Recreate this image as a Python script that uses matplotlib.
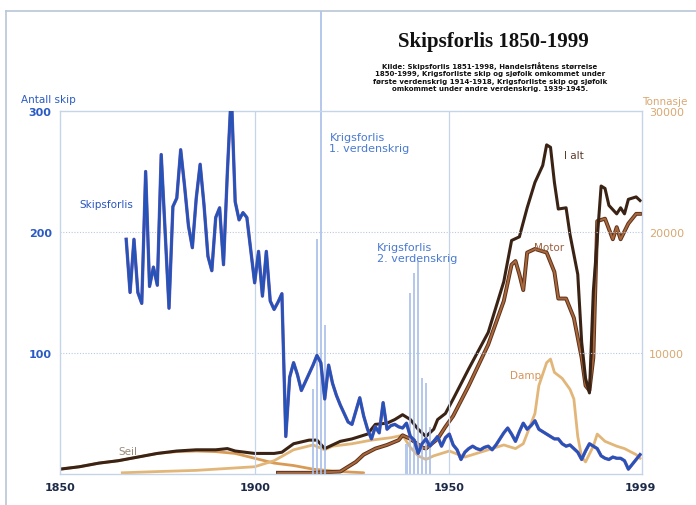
import numpy as np
import matplotlib
matplotlib.use("Agg")
import matplotlib.pyplot as plt
import matplotlib.patheffects as pe
from matplotlib.lines import Line2D

# Skipsforlis (antall skip), 1867-1999
forlis_years = np.arange(1867, 2000)
forlis = [194, 150, 194,
          150, 141, 250, 155, 171, 156, 264, 200, 137, 221,
          228, 268, 238, 205, 187, 228, 256, 222, 180, 168,
          212, 220, 173, 250, 316, 225, 210, 216, 212, 185,
          158, 184, 147, 184, 143, 136, 142, 149, 31, 80,
          92, 82, 69, 76, 83, 90, 98, 92, 62, 90,
          75, 65, 57, 50, 43, 41, 52, 63, 48, 37,
          29, 39, 34, 59, 37, 40, 41, 39, 38, 42,
          31, 28, 17, 25, 29, 23, 27, 31, 23, 30,
          33, 24, 20, 12, 18, 21, 23, 21, 20, 22,
          23, 20, 24, 29, 34, 38, 33, 27, 35, 42,
          37, 40, 44, 37, 35, 33, 31, 29, 29, 25,
          23, 24, 21, 18, 12, 19, 25, 23, 21, 15,
          13, 12, 14, 13, 13, 11, 4, 8, 12, 16]

# Krigsforlis (antall skip)
ww1_years = [1915, 1916, 1917, 1918]
ww1_loss = [70, 194, 383, 123]
ww2_years = [1939, 1940, 1941, 1942, 1943, 1944, 1945]
ww2_loss = [25, 150, 166, 176, 79, 75, 39]

# Tonnasje
ialt_years = [1850, 1855, 1860, 1865, 1870, 1875, 1880, 1885, 1890, 1893, 1895,
              1900, 1905, 1907, 1910, 1914, 1916, 1918, 1920, 1922, 1925, 1929,
              1931, 1934, 1936, 1938, 1940, 1942, 1944, 1946, 1947, 1949, 1951,
              1955, 1960, 1964, 1966, 1968, 1970, 1972, 1974, 1975, 1976, 1977,
              1978, 1980, 1981, 1983, 1984, 1985, 1986, 1987, 1989, 1990, 1991,
              1993, 1994, 1995, 1996, 1998, 1999]
ialt = [400, 600, 900, 1100, 1400, 1700, 1900, 2000, 2000, 2100, 1900,
        1700, 1700, 1800, 2500, 2800, 2800, 2100, 2400, 2700, 2900, 3300,
        4100, 4200, 4500, 4900, 4500, 3700, 3100, 3700, 4500, 5000, 6200,
        8700, 11700, 15900, 19300, 19600, 22000, 24100, 25500, 27200, 27000, 24100,
        21900, 22000, 19800, 16500, 10900, 7900, 6700, 15100, 23800, 23600, 22200,
        21500, 22000, 21500, 22700, 22900, 22600]

motor_years = [1906, 1915, 1922, 1926, 1928, 1931, 1934, 1937, 1938, 1940, 1943,
               1944, 1947, 1949, 1951, 1955, 1960, 1964, 1966, 1967, 1968, 1969,
               1970, 1972, 1975, 1977, 1978, 1980, 1982, 1984, 1985, 1986, 1987,
               1988, 1990, 1992, 1993, 1994, 1996, 1998, 1999]
motor = [100, 100, 200, 1000, 1600, 2100, 2400, 2800, 3200, 2900, 2200,
         2100, 2900, 3900, 4800, 7300, 10700, 14300, 17300, 17600, 16500, 15200,
         18300, 18600, 18300, 16700, 14500, 14500, 12900, 9600, 7300, 6900, 9600,
         20900, 21100, 19400, 20400, 19400, 20700, 21500, 21500]

damp_years = [1866, 1875, 1885, 1895, 1900, 1905, 1910, 1915, 1918, 1920, 1925,
              1930, 1935, 1938, 1940, 1942, 1944, 1946, 1948, 1950, 1954, 1960,
              1964, 1967, 1969, 1972, 1973, 1975, 1976, 1977, 1979, 1981, 1982,
              1983, 1984, 1985, 1987, 1988, 1990, 1993, 1995, 1998, 1999]
damp = [100, 200, 300, 500, 600, 1100, 2000, 2400, 2000, 2300, 2500,
        2800, 3000, 3200, 2200, 1500, 1200, 1500, 1700, 1900, 1400, 2000,
        2400, 2100, 2500, 5000, 7300, 9200, 9500, 8400, 7900, 7000, 6200,
        3100, 1400, 1000, 2300, 3300, 2700, 2300, 2100, 1600, 1300]

seil_years = [1850, 1855, 1860, 1865, 1870, 1875, 1880, 1885, 1890, 1895,
              1900, 1905, 1910, 1915, 1920, 1925, 1928]
seil = [400, 600, 900, 1100, 1400, 1700, 1850, 1900, 1850, 1700,
        1300, 900, 700, 400, 250, 150, 100]

BLUE = "#2553b8"
LIGHT = "#c6d4e8"

fig = plt.figure(figsize=(6.96, 5.06), dpi=100)
ax = fig.add_axes([60 / 696, 31 / 506, 582 / 696, 363 / 506])
ax2 = ax.twinx()
ax.set_zorder(ax2.get_zorder() + 1)
ax.patch.set_visible(False)

ax.set_xlim(1850, 1999.5)
ax.set_ylim(0, 300)
ax2.set_ylim(0, 30000)

# grid
for v in [100, 200]:
    ax.axhline(v, color="#b9c9de", lw=0.8, ls=(0, (1, 1.5)), zorder=0)
for yr in [1900, 1950]:
    ax.axvline(yr, color=LIGHT, lw=0.9, zorder=0)

# tonnage lines
ax2.plot(seil_years, seil, color="#d99a55", lw=2.0, solid_capstyle="round")
ax2.plot(damp_years, damp, color="#e2b678", lw=2.0)
ax2.plot(motor_years, motor, color="#a9673c", lw=1.4,
         path_effects=[pe.Stroke(linewidth=2.8, foreground="#5c3119"), pe.Normal()])
ax2.plot(ialt_years, ialt, color="#3a2314", lw=2.2)

# war losses
ax.bar(ww1_years, ww1_loss, width=0.55, color="#a9c0ea", alpha=0.85,
       zorder=1, clip_on=False)
ax.bar(ww2_years, ww2_loss, width=0.55, color="#a9c0ea", alpha=0.85, zorder=1)

# ship losses
ax.plot(forlis_years, forlis, color=BLUE, lw=1.9, zorder=3,
        path_effects=[pe.Stroke(linewidth=2.4, foreground="#7a5cb0"), pe.Normal()])

# axes styling
for sp in ["left", "right", "top", "bottom"]:
    ax.spines[sp].set_color(LIGHT)
    ax.spines[sp].set_linewidth(1.0)
    ax2.spines[sp].set_visible(False)

ax.set_yticks([100, 200, 300])
ax.set_yticklabels(["100", "200", "300"], color="#2a5bc4", fontsize=8,
                   fontweight="bold")
ax.tick_params(axis="y", length=0, pad=6)
ax.set_xticks([1850, 1900, 1950, 1999])
ax.set_xticklabels(["1850", "1900", "1950", "1999"], color="#1c2a48",
                   fontsize=8, fontweight="bold")
ax.tick_params(axis="x", length=0, pad=6)

ax2.set_yticks([10000, 20000, 30000])
ax2.set_yticklabels(["10000", "20000", "30000"], color="#d8a872", fontsize=8)
ax2.tick_params(axis="y", length=0, pad=5)

# labels
fig.text(48 / 696, 1 - 100 / 506, "Antall skip", color="#2a5bc4", fontsize=7.5,
         ha="center", va="center")
fig.text(665 / 696, 1 - 102 / 506, "Tonnasje", color="#d8a872", fontsize=7.5,
         ha="center", va="center")

ax.text(1862, 223, "Skipsforlis", color="#2a55c0", fontsize=7.5,
        ha="center", va="center")
ax.text(1919.2, 274, "Krigsforlis\n1. verdenskrig", color="#4a7ad0",
        fontsize=8, ha="left", va="center", linespacing=1.1)
ax.text(1931.5, 183, "Krigsforlis\n2. verdenskrig", color="#4a7ad0",
        fontsize=8, ha="left", va="center", linespacing=1.1)
ax.text(1982, 264, "I alt", color="#5a3a28", fontsize=7.5, ha="center", va="center")
ax.text(1975.6, 188, "Motor", color="#9a6040", fontsize=7.5, ha="center", va="center")
ax.text(1969.7, 82, "Damp", color="#d8955a", fontsize=7.5, ha="center", va="center")
ax.text(1867.4, 19, "Seil", color="#9a8a7a", fontsize=7.5, ha="center", va="center")

fig.text(493 / 696, 1 - 42 / 506, "Skipsforlis 1850-1999",
         family="Liberation Serif", fontweight="bold", fontsize=15,
         ha="center", va="center", color="#111111")
fig.text(490 / 696, 1 - 77 / 506,
         "Kilde: Skipsforlis 1851-1998, Handelsflåtens størrelse\n"
         "1850-1999, Krigsforliste skip og sjøfolk omkommet under\n"
         "første verdenskrig 1914-1918, Krigsforliste skip og sjøfolk\n"
         "omkommet under andre verdenskrig. 1939-1945.",
         fontsize=5, fontweight="bold", ha="center", va="center",
         linespacing=1.25, color="#111111")

# outer frame
fig.add_artist(Line2D([6 / 696, 6 / 696], [0, 1 - 12 / 506],
                      transform=fig.transFigure, color="#b8c6d6", lw=1.2))
fig.add_artist(Line2D([6 / 696, 1], [1 - 12 / 506, 1 - 12 / 506],
                      transform=fig.transFigure, color="#b8c6d6", lw=1.2))

fig.savefig("out.png", dpi=100)
